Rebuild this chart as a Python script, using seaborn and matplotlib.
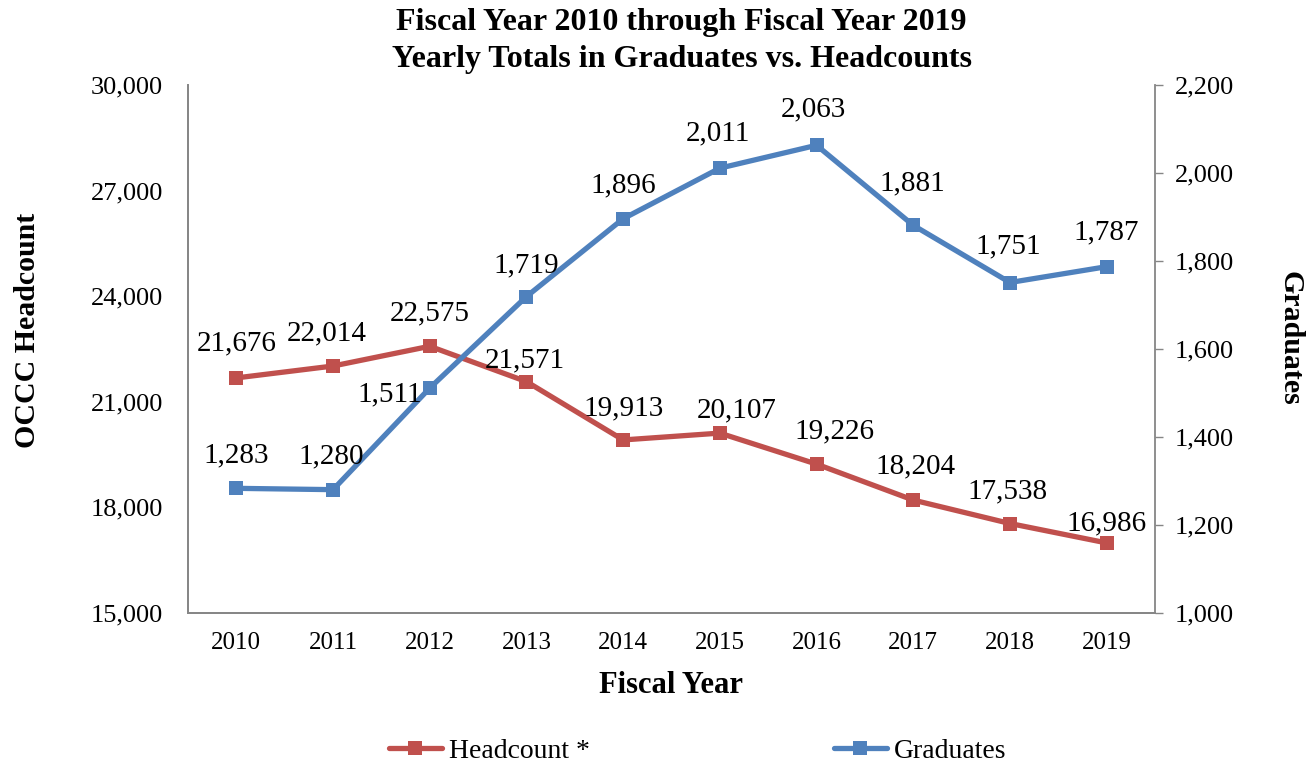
import matplotlib
matplotlib.use("Agg")
import matplotlib.pyplot as plt
from matplotlib.ticker import FuncFormatter, MultipleLocator
import numpy as np
import pandas as pd
import seaborn as sns

# ---- data ----
fiscal_years = ["2010", "2011", "2012", "2013", "2014", "2015", "2016", "2017", "2018", "2019"]
headcount = [21676, 22014, 22575, 21571, 19913, 20107, 19226, 18204, 17538, 16986]
graduates = [1283, 1280, 1511, 1719, 1896, 2011, 2063, 1881, 1751, 1787]

# label placement (pixel offsets from each point, dx, dy)
headcount_offsets = [(0, 35), (-6, 33), (0, 33), (-2, 21), (0, 32),
                     (17, 23), (18, 33), (2, 34), (-2, 32), (0, 20)]
graduate_offsets = [(0, 33), (-2, 33), (None, -6), (0, 31), (0, 33),
                    (-2, 35), (-3, 36), (-1, 42), (-2, 36), (0, 34)]

RED = "#C0504D"
BLUE = "#4F81BD"
GRAY = "#868686"

sns.set_theme(style="white")
plt.rcParams["font.family"] = ["Liberation Serif", "DejaVu Serif"]
plt.rcParams["text.color"] = "black"
plt.rcParams["axes.labelcolor"] = "black"
plt.rcParams["xtick.color"] = "black"
plt.rcParams["ytick.color"] = "black"

df = pd.DataFrame({
    "pos": np.arange(len(fiscal_years)),
    "year": fiscal_years,
    "Headcount": headcount,
    "Graduates": graduates,
})

fig = plt.figure(figsize=(13.11, 7.66), dpi=100)
ax = fig.add_axes([0.1434, 0.2, 0.7376, 0.689])
ax2 = ax.twinx()

line_kw = dict(linewidth=3.8, marker="s", markersize=10, markeredgewidth=0)
sns.lineplot(data=df, x="pos", y="Headcount", ax=ax, color=RED, **line_kw)
sns.lineplot(data=df, x="pos", y="Graduates", ax=ax2, color=BLUE, **line_kw)

ax.set_xlim(-0.5, len(fiscal_years) - 0.5)
ax.set_ylim(15000, 30000)
ax2.set_ylim(1000, 2200)
ax.yaxis.set_major_locator(MultipleLocator(3000))
ax2.yaxis.set_major_locator(MultipleLocator(200))
comma = FuncFormatter(lambda v, p: f"{int(v):,}")
ax.yaxis.set_major_formatter(comma)
ax2.yaxis.set_major_formatter(comma)
ax.set_xticks(df["pos"])
ax.set_xticklabels(fiscal_years)

for a in (ax, ax2):
    a.tick_params(axis="x", labelsize=18, length=0, pad=14)
    a.spines["top"].set_visible(False)
    for s in ("left", "right", "bottom"):
        a.spines[s].set_color(GRAY)
        a.spines[s].set_linewidth(1.3)
    a.grid(False)
ax.spines["right"].set_visible(False)
ax.tick_params(axis="y", labelsize=19, length=0, pad=18)
ax2.tick_params(axis="y", left=False, right=True, labelsize=19, length=6,
                width=1, color=GRAY, direction="out", pad=8)

ax.set_xlabel("Fiscal Year", fontsize=22, fontweight="bold", labelpad=12)
ax.set_ylabel("OCCC Headcount", fontsize=21.5, fontweight="bold", labelpad=36,
              y=0.536)
ax2.set_ylabel("Graduates", fontsize=21.5, fontweight="bold", rotation=-90,
               labelpad=50, y=0.52)
fig.text(0.52, 0.946,
         "Fiscal Year 2010 through Fiscal Year 2019\n"
         "Yearly Totals in Graduates vs. Headcounts",
         ha="center", va="center", fontsize=23, fontweight="bold",
         linespacing=1.36)

# value labels
for i, v in enumerate(headcount):
    dx, dy = headcount_offsets[i]
    ax.annotate(f"{v:,}", (i, v), xytext=(dx, dy), textcoords="offset pixels",
                ha="center", va="center", fontsize=21)
for i, v in enumerate(graduates):
    dx, dy = graduate_offsets[i]
    if dx is None:
        ax2.annotate(f"{v:,}", (i, v), xytext=(-8, dy), textcoords="offset pixels",
                     ha="right", va="center", fontsize=21)
    else:
        ax2.annotate(f"{v:,}", (i, v), xytext=(dx, dy), textcoords="offset pixels",
                     ha="center", va="center", fontsize=21)

handles = [
    plt.Line2D([], [], color=RED, **line_kw),
    plt.Line2D([], [], color=BLUE, **line_kw),
]
fig.legend(handles, ["Headcount *", "Graduates"], loc="lower center",
           bbox_to_anchor=(0.532, -0.03), ncol=2, frameon=False, fontsize=20,
           handlelength=1.9, handletextpad=0.25, columnspacing=8.8)

fig.savefig("out.png", dpi=100)
